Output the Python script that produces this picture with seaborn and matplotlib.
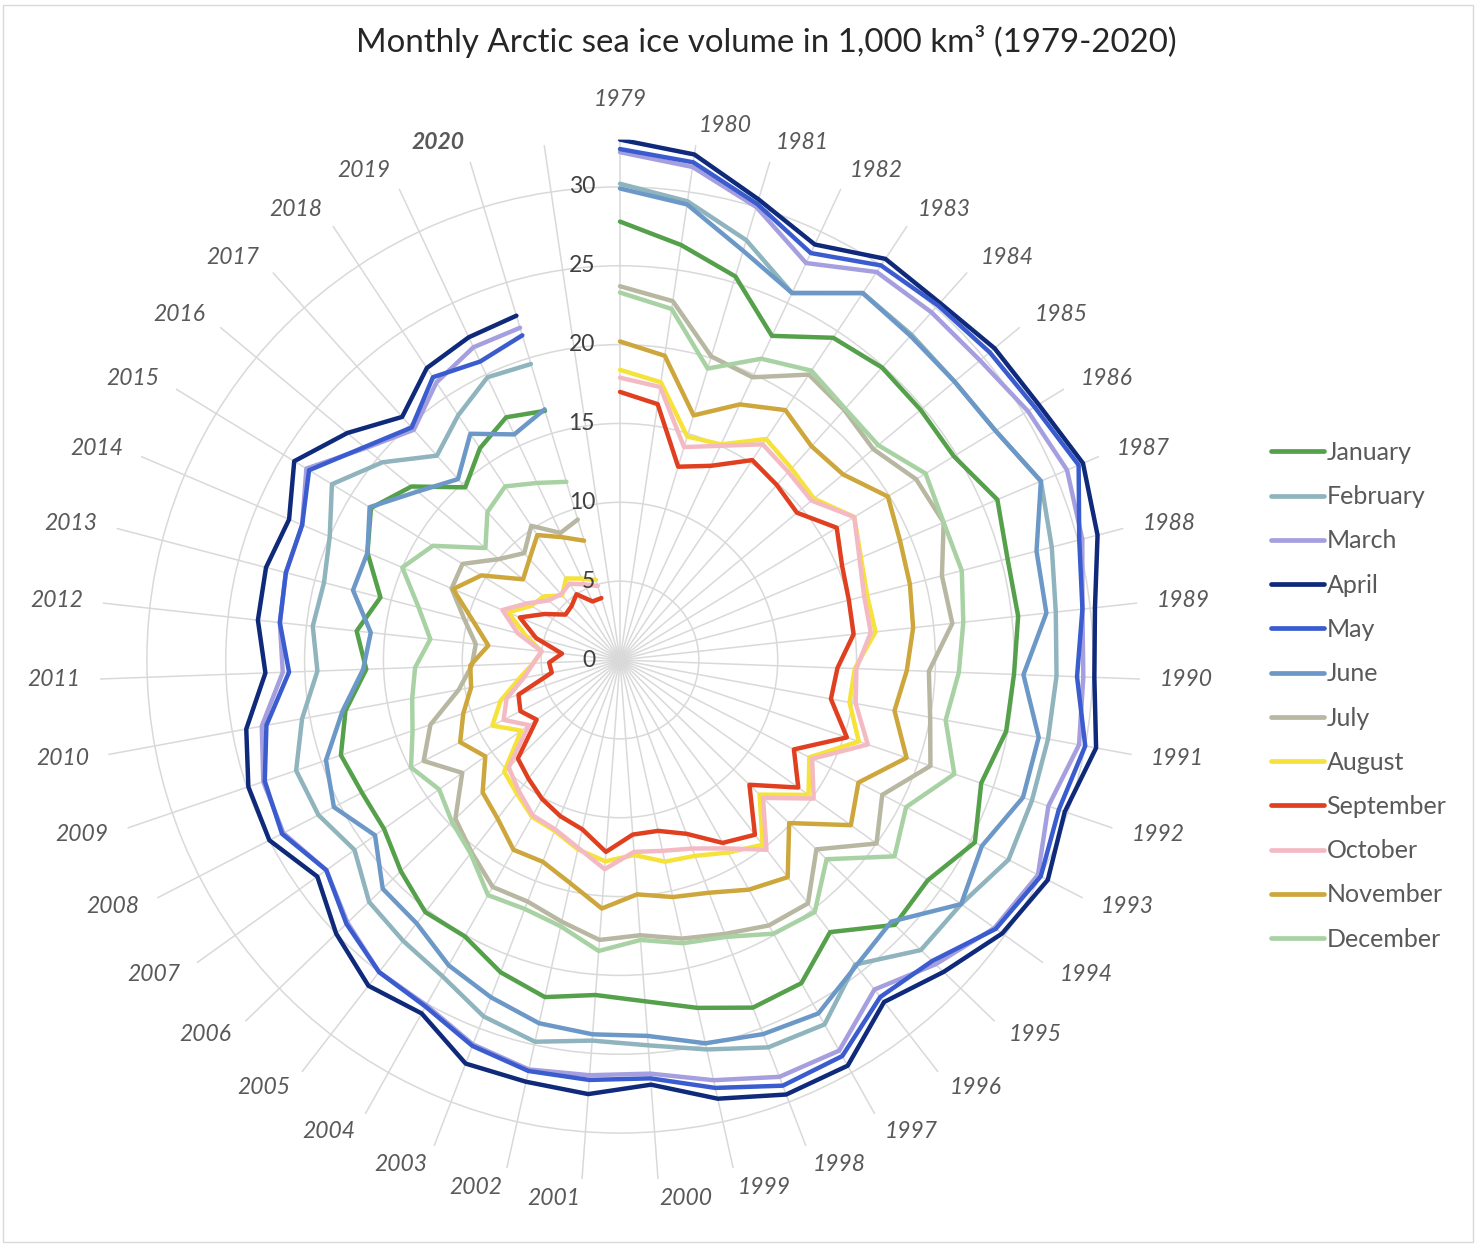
import numpy as np
import pandas as pd
import matplotlib
matplotlib.use("Agg")
import matplotlib.pyplot as plt
import matplotlib.transforms as mtransforms
from matplotlib.lines import Line2D
from matplotlib.patches import Rectangle
import seaborn as sns

# ---------------- data (1,000 km3), 1979..2020 ----------------
axis_years = [str(y) for y in range(1979, 2021)] + [""]   # 43 spokes, last one empty

months = ["January", "February", "March", "April", "May", "June",
          "July", "August", "September", "October", "November", "December"]

january = [27.8, 26.6, 25.4, 22.7, 24.5, 24.9, 24.8, 24.8, 26.0, 25.4, 25.4, 25.0,
           24.9, 24.2, 25.3, 24.0, 24.2, 21.8, 23.5, 23.6, 22.6, 21.7, 21.3, 21.9,
           21.2, 20.1, 20.2, 19.3, 18.4, 18.4, 18.7, 17.7, 16.1, 16.8, 15.7, 17.4,
           18.5, 17.2, 14.7, 16.1, 17.0, 16.5]
february = [30.2, 29.4, 27.8, 25.7, 27.9, 27.7, 27.6, 27.9, 29.0, 28.3, 27.8, 27.7,
            27.6, 27.6, 27.7, 26.6, 26.5, 24.4, 26.5, 26.3, 25.3, 24.5, 24.2, 24.8,
            24.2, 23.0, 22.5, 22.1, 20.7, 21.5, 21.7, 20.5, 19.2, 19.6, 19.4, 20.0,
            21.4, 19.6, 17.4, 18.6, 19.8, 19.6]
march = [32.2, 31.6, 30.0, 27.8, 29.5, 29.6, 29.7, 30.3, 30.8, 30.3, 29.5, 29.4,
         29.6, 28.7, 29.8, 29.2, 27.8, 26.4, 28.4, 28.3, 27.3, 26.3, 26.4, 26.6,
         26.1, 25.1, 25.0, 24.0, 22.9, 24.0, 23.9, 23.1, 21.4, 21.7, 21.9, 21.9,
         23.3, 21.0, 19.6, 21.1, 21.9, 22.0]
april = [33.0, 32.4, 30.5, 29.1, 30.5, 30.4, 30.9, 31.1, 31.9, 31.3, 30.3, 30.1,
         30.7, 29.8, 30.5, 29.8, 28.5, 27.4, 29.5, 29.5, 28.5, 27.0, 27.6, 27.4,
         27.4, 25.7, 26.1, 25.0, 23.6, 25.0, 24.9, 24.1, 22.5, 23.1, 23.2, 22.8,
         24.2, 22.5, 20.7, 22.2, 22.6, 22.8]
may = [32.4, 31.9, 30.2, 28.5, 30.0, 30.2, 30.5, 30.8, 31.6, 30.1, 29.5, 29.0,
       30.0, 29.4, 30.0, 29.3, 27.5, 27.0, 28.8, 28.9, 27.8, 26.6, 26.7, 26.7,
       26.2, 25.2, 25.0, 24.1, 22.9, 24.1, 23.8, 22.8, 21.0, 21.7, 21.9, 21.9,
       23.1, 21.1, 19.8, 21.5, 20.9, 21.5]
june = [29.9, 29.2, 27.1, 25.7, 27.9, 27.6, 27.6, 27.9, 29.0, 27.3, 27.2, 25.6,
        27.0, 27.0, 25.8, 26.6, 23.9, 24.5, 25.7, 25.4, 24.9, 23.9, 23.8, 23.6,
        22.9, 22.2, 21.1, 20.9, 19.1, 20.4, 19.7, 17.9, 16.3, 15.9, 17.5, 17.4,
        18.6, 16.7, 15.4, 17.2, 15.8, 16.6]
july = [23.7, 23.0, 20.1, 19.8, 21.7, 21.3, 20.9, 22.0, 22.3, 21.1, 21.2, 19.6,
        20.0, 20.8, 18.7, 20.0, 17.3, 19.5, 19.3, 18.6, 18.1, 17.5, 17.8, 17.0,
        16.4, 16.5, 15.4, 14.5, 12.3, 14.0, 12.7, 10.4, 9.4, 9.2, 10.2, 11.6,
        11.7, 10.0, 9.1, 10.2, 8.9, 9.3]
august = [18.4, 17.8, 14.8, 15.1, 16.8, 16.3, 16.0, 17.4, 16.6, 16.2, 16.3, 14.9,
          14.8, 16.0, 13.5, 14.7, 12.3, 14.8, 14.0, 13.3, 13.1, 12.4, 12.8, 12.3,
          11.6, 11.4, 10.7, 10.2, 7.7, 9.1, 8.0, 6.5, 5.5, 5.0, 6.2, 7.7,
          6.6, 6.3, 5.5, 6.2, 5.7, 5.3]
september = [17.0, 16.4, 12.8, 13.6, 15.2, 14.9, 14.6, 16.1, 15.3, 15.0, 14.9, 13.8,
             13.6, 15.2, 12.4, 13.9, 11.4, 14.0, 13.3, 11.8, 11.1, 11.1, 12.2, 11.0,
             10.6, 10.1, 9.5, 9.0, 6.5, 7.1, 6.8, 4.4, 4.5, 3.7, 5.5, 6.9,
             5.6, 4.5, 4.6, 5.0, 4.1, 4.1]
october = [17.9, 17.5, 14.1, 15.0, 16.4, 16.0, 15.8, 17.4, 16.5, 16.0, 16.0, 15.0,
           15.2, 16.6, 13.7, 15.1, 12.6, 15.2, 13.7, 12.8, 12.4, 12.2, 13.3, 12.2,
           11.5, 11.3, 10.5, 9.8, 7.1, 8.3, 7.6, 6.2, 5.5, 5.0, 6.7, 8.1,
           6.9, 5.9, 5.6, 5.8, 5.3, 4.9]
november = [20.2, 19.5, 16.2, 17.9, 19.0, 18.2, 18.4, 19.9, 19.3, 19.0, 18.7, 18.2,
            17.7, 19.2, 17.0, 18.0, 14.9, 17.4, 16.7, 15.8, 15.4, 14.9, 15.8, 14.5,
            13.7, 13.8, 12.7, 12.1, 10.5, 11.4, 10.5, 9.6, 9.5, 8.4, 9.6, 11.5,
            10.3, 8.0, 8.6, 9.5, 8.6, 7.9]
december = [23.3, 22.5, 19.3, 21.1, 22.0, 21.4, 21.3, 22.7, 22.3, 22.4, 21.9, 21.5,
            21.0, 22.4, 20.4, 21.4, 18.2, 20.2, 19.9, 18.8, 18.4, 17.8, 18.5, 17.3,
            16.9, 17.1, 15.5, 14.8, 14.1, 14.9, 13.9, 13.4, 13.0, 12.1, 13.2, 15.0,
            13.9, 11.1, 12.6, 13.2, 12.4, 11.8]

series = [january, february, march, april, may, june,
          july, august, september, october, november, december]

colors = ["#55A04B", "#8FB4BD", "#A59FDF", "#0F2A7A", "#3A5CCF", "#6C98C8",
          "#B8B7A2", "#F5E23A", "#E0401F", "#F4BAC4", "#CDA63C", "#A8D2A3"]

radial_ticks = [0, 5, 10, 15, 20, 25, 30]

# ---------------- figure ----------------
sns.set_theme(style="white")
plt.rcParams["font.family"] = ["Lato", "DejaVu Sans"]

W, H = 1479, 1246
fig = plt.figure(figsize=(W / 100, H / 100), dpi=100)
fig.patch.set_facecolor("white")

cx, cy = 620, 660          # centre in pixels
rpx = 33 * 15.77           # radius of axis max in pixels
ax = fig.add_axes([(cx - rpx) / W, (H - cy - rpx) / H, 2 * rpx / W, 2 * rpx / H],
                  projection="polar")
ax.set_theta_zero_location("N")
ax.set_theta_direction(-1)

n = len(axis_years)
theta_all = np.arange(n) * 2 * np.pi / n
nyrs = len(january)

df = pd.DataFrame({
    "theta": np.tile(theta_all[:nyrs], len(months)),
    "volume": np.concatenate(series),
    "month": np.repeat(months, nyrs),
})

for m, c in zip(months, colors):
    d = df[df["month"] == m]
    sns.lineplot(data=d, x="theta", y="volume", ax=ax, color=c, linewidth=3.2,
                 sort=False, estimator=None, legend=False)

ax.set_xlabel("")
ax.set_ylabel("")
ax.set_ylim(0, 33)
ax.set_xticks(theta_all)
ax.set_xticklabels([])
ax.set_yticks(radial_ticks[1:])
ax.set_yticklabels([])
ax.grid(True, color="#D9D9D9", linewidth=1.1)
ax.spines["polar"].set_visible(False)
ax.set_facecolor("white")
ax.set_axisbelow(True)

# radial value labels, left of the 1979 spoke
off = mtransforms.offset_copy(ax.transData, fig=fig, x=-18, y=0, units="points")
for v in radial_ticks:
    ax.text(0, v, str(v), transform=off, ha="right", va="center",
            fontsize=16.5, color="#404040")

# year labels around the circle
rl = 34.25
for t, lab in zip(theta_all, axis_years):
    if not lab:
        continue
    if abs(t) < 1e-9:
        ax.text(t, 34.9, lab, ha="center", va="bottom", fontsize=16.5,
                color="#595959", style="italic", clip_on=False)
        continue
    ha = "left" if t < np.pi else "right"
    weight = "bold" if lab == "2020" else "normal"
    ax.text(t, rl, lab, ha=ha, va="center", fontsize=16.5, color="#595959",
            style="italic", fontweight=weight, clip_on=False)

# title
fig.text(766 / W, 1 - 42 / H, "Monthly Arctic sea ice volume in 1,000 km³ (1979-2020)",
         ha="center", va="center", fontsize=23.8, color="#262626")

# legend
handles = [Line2D([0], [0], color=c, lw=3.4) for c in colors]
fig.legend(handles, months, loc="upper left", bbox_to_anchor=(1271 / W, 1 - 441 / H),
           frameon=False, fontsize=18, labelcolor="#595959", handlelength=2.1,
           handletextpad=0.12, labelspacing=0.85, borderpad=0, borderaxespad=0)

# chart border
fig.patches.append(Rectangle((0.002, 0.003), 0.994, 0.993, transform=fig.transFigure,
                             fill=False, edgecolor="#D9D9D9", linewidth=1.0))

fig.savefig("out.png", dpi=100, facecolor="white")
